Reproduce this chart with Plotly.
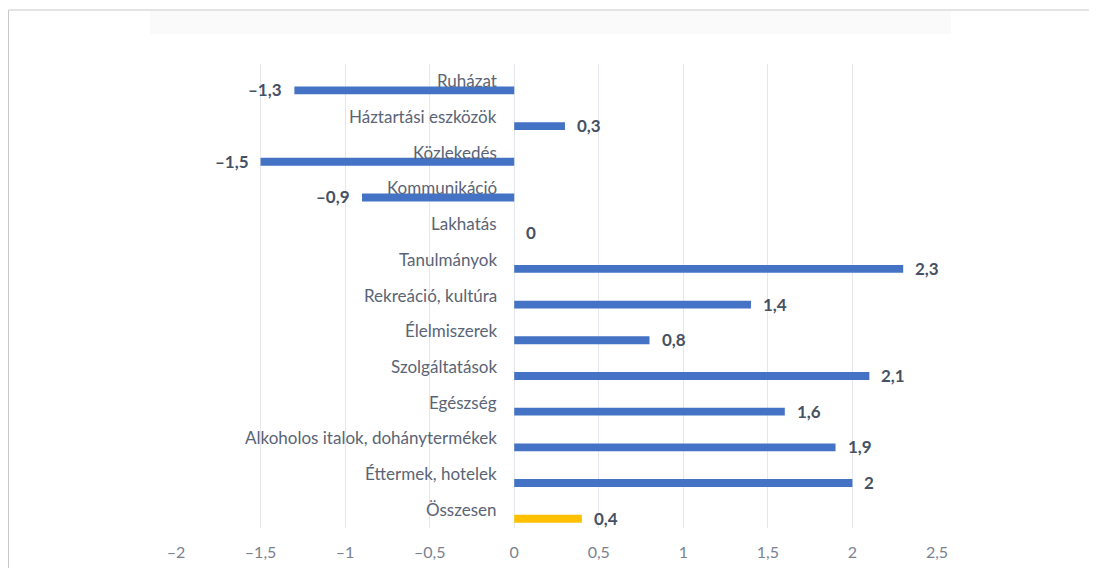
import plotly.graph_objects as go

categories = ["Ruházat", "Háztartási eszközök", "Közlekedés", "Kommunikáció", "Lakhatás",
              "Tanulmányok", "Rekreáció, kultúra", "Élelmiszerek", "Szolgáltatások", "Egészség",
              "Alkoholos italok, dohánytermékek", "Éttermek, hotelek", "Összesen"]
values = [-1.3, 0.3, -1.5, -0.9, 0, 2.3, 1.4, 0.8, 2.1, 1.6, 1.9, 2, 0.4]
bar_colors = ["#4472C4"] * 12 + ["#FFC000"]
tick_vals = [-2, -1.5, -1, -0.5, 0, 0.5, 1, 1.5, 2, 2.5]


def fmt(v):
    s = ("%g" % abs(v)).replace(".", ",")
    return ("–" + s) if v < 0 else s


# page is rendered with an 8px body margin
W, H = 1089, 560
ML, MR, MT, MB = 168, 160, 56, 40

fig = go.Figure()
fig.add_trace(go.Bar(
    y=categories, x=values, orientation="h",
    marker=dict(color=bar_colors, line=dict(width=0)),
    width=0.22, offset=0.13,
    hoverinfo="skip",
))

FONT = "Lato"
annotations = []
for c, v in zip(categories, values):
    annotations.append(dict(
        x=0, y=c, xref="x", yref="y", text=c, showarrow=False,
        xanchor="right", yanchor="middle", xshift=-15, yshift=1,
        font=dict(family=FONT, size=17, color="#5A6476"),
    ))
    annotations.append(dict(
        x=v, y=c, xref="x", yref="y", text="<b>%s</b>" % fmt(v), showarrow=False,
        xanchor="right" if v < 0 else "left", yanchor="middle",
        xshift=-10 if v < 0 else 10, yshift=-8,
        font=dict(family=FONT, size=17, color="#465163"),
    ))

pw = W - ML - MR
ph = H - MT - MB


def px_x(p):
    return (p - ML) / pw


def px_y(p):
    return (H - MB - p) / ph


shapes = [
    dict(type="rect", xref="paper", yref="paper",
         x0=px_x(142), x1=px_x(943), y0=px_y(26), y1=px_y(3),
         line=dict(width=0), fillcolor="#FAFAFA", layer="below"),
    dict(type="rect", xref="paper", yref="paper",
         x0=px_x(0.5), x1=px_x(1110), y0=px_y(580), y1=px_y(2),
         line=dict(width=1, color="#C8C8C8"), fillcolor="rgba(0,0,0,0)"),
]

n = len(categories)
fig.update_layout(
    width=W, height=H,
    margin=dict(l=ML, r=MR, t=MT, b=MB, autoexpand=False),
    paper_bgcolor="white", plot_bgcolor="white",
    showlegend=False,
    annotations=annotations,
    shapes=shapes,
    xaxis=dict(
        range=[-2, 2.5], tickvals=tick_vals, ticktext=[fmt(t) for t in tick_vals],
        showgrid=True, gridcolor="#E4E8EE", gridwidth=1,
        zeroline=True, zerolinecolor="#E4E8EE", zerolinewidth=1,
        showline=False, ticks="", ticklabelstandoff=13, automargin=False,
        tickfont=dict(family=FONT, size=16, color="#7A8290"),
        fixedrange=True,
    ),
    yaxis=dict(
        categoryorder="array", categoryarray=categories,
        range=[n - 0.5, -0.5], autorange=False, automargin=False,
        showticklabels=False, showgrid=False, zeroline=False, ticks="",
        fixedrange=True,
    ),
)

fig.write_html("out.html")
